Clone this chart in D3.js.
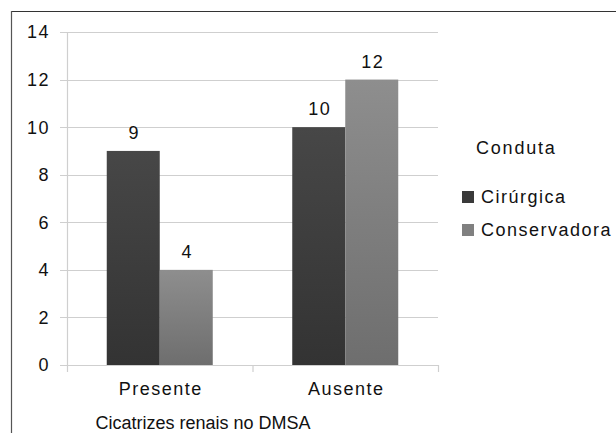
<!DOCTYPE html>
<html>
<head>
<meta charset="utf-8">
<script src="https://cdn.jsdelivr.net/npm/d3@7"></script>
<style>
  html, body { margin: 0; padding: 0; background: #fff; }
  svg text { font-family: "Liberation Sans", Arial, sans-serif; fill: #111; }
</style>
</head>
<body>
<svg id="chart" width="616" height="433"></svg>
<script>
// Cicatrizes renais no DMSA por conduta
const categories = ["Presente", "Ausente"];
const seriesNames = ["Cirúrgica", "Conservadora"];
const cirurgica = [9, 10];
const conservadora = [4, 12];
const yTicks = [0, 2, 4, 6, 8, 10, 12, 14];

const series = [cirurgica, conservadora];
const svg = d3.select("#chart");
const W = 616, H = 433;

// Outer frame: top and left edges
svg.append("line").attr("x1", 11).attr("x2", W).attr("y1", 11.5).attr("y2", 11.5)
  .attr("stroke", "#333").attr("stroke-width", 1.2);
svg.append("line").attr("x1", 11.5).attr("x2", 11.5).attr("y1", 11).attr("y2", H)
  .attr("stroke", "#555").attr("stroke-width", 1.2);

const plot = { left: 67, right: 438, top: 32, bottom: 365 };

const x0 = d3.scaleBand().domain(categories).range([plot.left, plot.right]).paddingInner(0).paddingOuter(0);
const x1 = d3.scaleBand().domain(seriesNames).range([0, x0.bandwidth()]).paddingInner(0).paddingOuter(0.75);
const y = d3.scaleLinear().domain([0, 14]).range([plot.bottom, plot.top]);

// Gradients for the bars
const defs = svg.append("defs");
const grads = [["#474747", "#333333"], ["#8e8e8e", "#6e6e6e"]];
grads.forEach((g, i) => {
  const lg = defs.append("linearGradient").attr("id", "g" + i)
    .attr("x1", 0).attr("x2", 0).attr("y1", 0).attr("y2", 1);
  lg.append("stop").attr("offset", "0%").attr("stop-color", g[0]);
  lg.append("stop").attr("offset", "100%").attr("stop-color", g[1]);
});
const swatch = ["#3a3a3a", "#808080"];

// Horizontal gridlines with tick stubs
svg.append("g").selectAll("line").data(yTicks).join("line")
  .attr("x1", plot.left - 7).attr("x2", plot.right)
  .attr("y1", d => Math.round(y(d)) + 0.5).attr("y2", d => Math.round(y(d)) + 0.5)
  .attr("stroke", "#cfcfcf").attr("stroke-width", 1.2);

// Y axis line
svg.append("line").attr("x1", plot.left + 0.5).attr("x2", plot.left + 0.5)
  .attr("y1", plot.top).attr("y2", plot.bottom + 7)
  .attr("stroke", "#cfcfcf").attr("stroke-width", 1.2);

// Category separator ticks
const sepX = [plot.left + x0.bandwidth(), plot.right];
svg.append("g").selectAll("line").data(sepX).join("line")
  .attr("x1", d => d + 0.5).attr("x2", d => d + 0.5)
  .attr("y1", plot.bottom).attr("y2", plot.bottom + 7)
  .attr("stroke", "#cfcfcf").attr("stroke-width", 1.2);

// Y tick labels
svg.append("g").selectAll("text").data(yTicks).join("text")
  .attr("x", 50).attr("y", d => y(d)).attr("dy", "0.36em")
  .attr("text-anchor", "end").attr("font-size", 18).attr("letter-spacing", 1.5)
  .text(d => d);

// Bars
const groups = svg.append("g").selectAll("g").data(categories).join("g")
  .attr("transform", c => `translate(${x0(c)},0)`);
groups.selectAll("rect").data((c, ci) => seriesNames.map((s, si) => ({ s, si, v: series[si][ci] })))
  .join("rect")
  .attr("x", d => x1(d.s)).attr("width", x1.bandwidth())
  .attr("y", d => y(d.v)).attr("height", d => y(0) - y(d.v))
  .attr("fill", d => `url(#g${d.si})`);

// Value labels
groups.selectAll("text").data((c, ci) => seriesNames.map((s, si) => ({ s, si, v: series[si][ci] })))
  .join("text")
  .attr("x", d => x1(d.s) + x1.bandwidth() / 2 + 1).attr("y", d => y(d.v) - 12)
  .attr("text-anchor", "middle").attr("font-size", 18).attr("letter-spacing", 1.5)
  .text(d => d.v);

// Category labels
svg.append("g").selectAll("text").data(categories).join("text")
  .attr("x", c => x0(c) + x0.bandwidth() / 2 + 1).attr("y", 395)
  .attr("text-anchor", "middle").attr("font-size", 18).attr("letter-spacing", 1.5)
  .text(c => c);

// Axis title
svg.append("text").attr("x", 203).attr("y", 429)
  .attr("text-anchor", "middle").attr("font-size", 18)
  .text("Cicatrizes renais no DMSA");

// Legend
svg.append("text").attr("x", 476).attr("y", 154).attr("font-size", 18).attr("letter-spacing", 1.8).text("Conduta");
const leg = svg.append("g").selectAll("g").data(seriesNames).join("g")
  .attr("transform", (d, i) => `translate(462,${197 + i * 33})`);
leg.append("rect").attr("x", 0).attr("y", -6).attr("width", 12).attr("height", 12)
  .attr("fill", (d, i) => swatch[i]);
leg.append("text").attr("x", 19).attr("y", 0).attr("dy", "0.36em").attr("font-size", 18)
  .attr("letter-spacing", 1.5)
  .text(d => d);
</script>
</body>
</html>
